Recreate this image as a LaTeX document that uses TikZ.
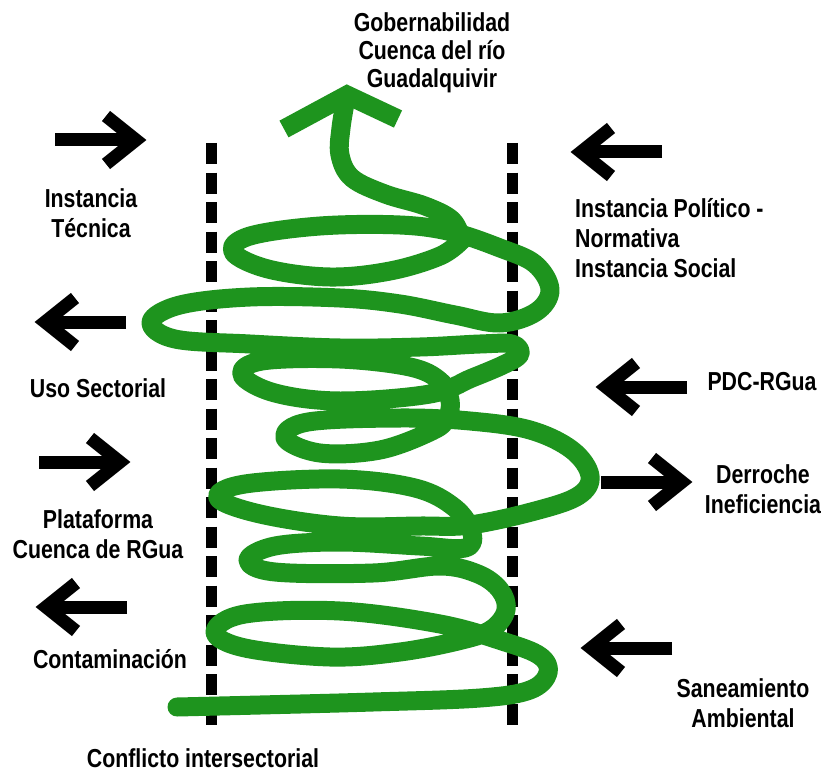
\documentclass[tikz,border=0pt]{standalone}
\usepackage{fontspec}
\newfontfamily\lblfont{Liberation Sans}[FakeStretch=0.82]
\definecolor{spiralgreen}{RGB}{30,148,30}
\tikzset{
  lbl/.style={font=\lblfont\bfseries\fontsize{26}{30}\selectfont, inner sep=0pt, align=center, anchor=base},
  lbltight/.style={lbl, font=\lblfont\bfseries\fontsize{26}{28}\selectfont},
  dashline/.style={line width=11pt, dash pattern=on 21pt off 8.5pt},
  spiral/.style={draw=spiralgreen, line width=19pt, line cap=round, line join=round},
  fatarrow/.pic={
    \draw[line width=13pt, line cap=butt] (-45,0) -- (34,0);
    \draw[line width=13pt, line cap=butt, line join=miter] (6,-24) -- (36,0) -- (6,24);
  }
}
\begin{document}
\begin{tikzpicture}[x=1pt, y=-1pt]
\useasboundingbox (0,0) rectangle (822,773);

% dashed boundaries
\coordinate (ltop) at (211,143);
\coordinate (lbot) at (211,730);
\coordinate (rtop) at (512,143);
\coordinate (rbot) at (512,730);
\draw[dashline] (ltop) -- (lbot);
\draw[dashline] (rtop) -- (rbot);

% green spiral
\draw[spiral] plot[smooth, tension=0.6] coordinates {
 (346,98) (341,128) (340,155) (352,178) (385,194) (425,206) (452,220) (462,240)};
\draw[spiral] plot[smooth, tension=0.6] coordinates {
 (462,240) (440,256) (390,271) (330,277) (268,269) (233,252) (250,236) (320,226)
 (400,225) (452,232) (500,248) (535,264) (550,290) (536,312) (500,323) (455,315)
 (400,304) (340,298) (250,297) (180,305) (151,322) (175,339) (250,344) (340,348)
 (420,347) (480,344) (512,344) (520,354) (505,364) (472,378) (430,394) (340,401)
 (275,393) (242,375) (262,361) (340,359) (410,367) (440,381) (450,400) (447,418)
 (432,431) (380,450) (320,453) (285,438) (308,422) (400,418) (470,421) (530,430)
 (572,450) (590,476) (578,496) (535,511) (470,525) (420,526) (340,526) (260,514)
 (218,498) (245,484) (340,479) (415,488) (455,508) (472,533) (465,548) (420,546)
 (340,542) (275,546) (248,560) (275,572) (373,573) (440,566) (478,574) (500,590)
 (506,610) (492,629) (462,640) (400,652) (330,657) (245,648) (215,632) (245,614)
 (340,611) (440,624) (505,642) (540,656) (548,673) (530,690) (480,698) (373,702)
 (260,705) (177,707)};
\draw[spiral, line cap=butt, line join=miter] (284,129) -- (347,95) -- (398,119);

% black arrows
\pic (a1) at (100,140) {fatarrow};
\pic[rotate=180] (a2) at (81,322) {fatarrow};
\pic (a3) at (84,462) {fatarrow};
\pic[rotate=180] (a4) at (82,607) {fatarrow};
\pic[rotate=180] (a5) at (617,152) {fatarrow};
\pic[rotate=180] (a6) at (642,387) {fatarrow};
\pic (a7) at (646,482) {fatarrow};
\pic[rotate=180] (a8) at (627,648) {fatarrow};

% labels (base anchor = baseline of the last line)
\node[lbltight] (gob) at (432,88) {Gobernabilidad\\Cuenca del río\\Guadalquivir};
\node[lbl] (tec) at (91,237) {Instancia\\Técnica};
\node[lbl, align=left, anchor=base west] (pol) at (575,277) {Instancia Político -\\Normativa\\Instancia Social};
\node[lbl] (uso) at (98,397) {Uso Sectorial};
\node[lbl] (pdc) at (762,390) {PDC-RGua};
\node[lbl] (pla) at (98,558) {Plataforma\\Cuenca de RGua};
\node[lbl] (con) at (110,668) {Contaminación};
\node[lbl] (der) at (763,513) {Derroche\\Ineficiencia};
\node[lbl] (san) at (743,727) {Saneamiento\\Ambiental};
\node[lbl] (conf) at (203,767) {Conflicto intersectorial};
\end{tikzpicture}
\end{document}
